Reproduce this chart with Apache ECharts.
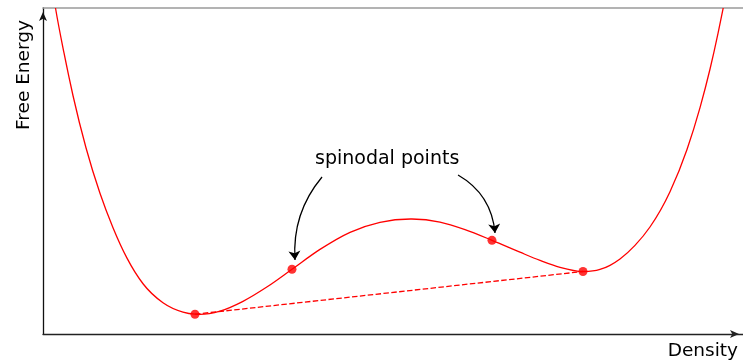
<!DOCTYPE html>
<html>
<head>
<meta charset="utf-8">
<script src="https://cdn.jsdelivr.net/npm/echarts@6/dist/echarts.min.js"></script>
<style>
  html, body { margin: 0; padding: 0; background: #fff; }
  #chart { width: 743px; height: 363px; }
</style>
</head>
<body>
<div id="chart"></div>
<script>
// Free energy curve, density and energy in reduced units (0..1 on both axes)
var density = [0.0107, 0.0181, 0.0300, 0.0429, 0.0614, 0.0814, 0.1000, 0.1200, 0.1429, 0.1714,
               0.2000, 0.2171, 0.2243, 0.2529, 0.2857, 0.3214, 0.3557, 0.3957, 0.4386, 0.4814,
               0.5271, 0.5671, 0.6029, 0.6414, 0.6814, 0.7100, 0.7386, 0.7714, 0.7957, 0.8100,
               0.8243, 0.8457, 0.8671, 0.8957, 0.9200, 0.9386, 0.9529, 0.9643, 0.9714, 0.9771];
var freeEnergy = [1.0982, 0.9969, 0.8620, 0.7308, 0.5713, 0.4317, 0.3261, 0.2327, 0.1541, 0.0959,
                  0.0673, 0.0607, 0.0601, 0.0702, 0.1003, 0.1463, 0.1985, 0.2595, 0.3120, 0.3426,
                  0.3528, 0.3433, 0.3202, 0.2874, 0.2509, 0.2258, 0.2046, 0.1917, 0.1979, 0.2107,
                  0.2301, 0.2718, 0.3282, 0.4365, 0.5660, 0.6945, 0.8129, 0.9224, 0.9969, 1.0613];

// Common-tangent (coexistence) points and spinodal points
var binodalX = [0.2171, 0.7714];
var binodalY = [0.0607, 0.1917];
var spinodalX = [0.3557, 0.6414];
var spinodalY = [0.1985, 0.2874];

// Annotation arrows: [start x, start y, tip x, tip y, curveness]
var arrowLeft = [0.3986, 0.4816, 0.3600, 0.2270, -0.2];
var arrowRight = [0.5929, 0.4877, 0.6457, 0.3098, 0.26];

var annotationText = 'spinodal points';
var xTitle = 'Density';
var yTitle = 'Free Energy';

var curve = density.map(function (x, i) { return [x, freeEnergy[i]]; });
var tangent = binodalX.map(function (x, i) { return [x, binodalY[i]]; });
var dots = binodalX.map(function (x, i) { return [x, binodalY[i]]; })
  .concat(spinodalX.map(function (x, i) { return [x, spinodalY[i]]; }));

function arrowItem(a) {
  return {
    coords: [[a[0], a[1]], [a[2], a[3]]],
    lineStyle: { curveness: a[4] }
  };
}

// Smooth cubic Hermite path through the projected points (y as a function of x)
function splinePath(pts) {
  var n = pts.length, h = [], d = [], m = [], i;
  for (i = 0; i < n - 1; i++) {
    h[i] = pts[i + 1][0] - pts[i][0];
    d[i] = (pts[i + 1][1] - pts[i][1]) / h[i];
  }
  m[0] = d[0];
  m[n - 1] = d[n - 2];
  for (i = 1; i < n - 1; i++) {
    m[i] = (d[i - 1] * h[i] + d[i] * h[i - 1]) / (h[i - 1] + h[i]);
  }
  var s = 'M' + pts[0][0] + ' ' + pts[0][1];
  for (i = 0; i < n - 1; i++) {
    var t = h[i] / 3;
    s += ' C' + (pts[i][0] + t) + ' ' + (pts[i][1] + m[i] * t) + ' ' +
         (pts[i + 1][0] - t) + ' ' + (pts[i + 1][1] - m[i + 1] * t) + ' ' +
         pts[i + 1][0] + ' ' + pts[i + 1][1];
  }
  return s;
}

var FONT = 'DejaVu Sans';
var chart = echarts.init(document.getElementById('chart'), null, { renderer: 'canvas' });

chart.setOption({
  animation: false,
  backgroundColor: '#ffffff',
  grid: { left: 43, right: 0, top: 8, bottom: 29, containLabel: false },
  xAxis: [{
    type: 'value', min: 0, max: 1, position: 'bottom',
    axisLine: { show: true, onZero: false, symbol: ['none', 'arrow'], symbolSize: [6, 9], symbolOffset: [0, -4],
                lineStyle: { color: '#222', width: 1.3 } },
    axisTick: { show: false }, axisLabel: { show: false }, splitLine: { show: false }
  }, {
    type: 'value', min: 0, max: 1, position: 'top',
    axisLine: { show: true, onZero: false, lineStyle: { color: '#9a9a9a', width: 1.6 } },
    axisTick: { show: false }, axisLabel: { show: false }, splitLine: { show: false }
  }],
  yAxis: {
    type: 'value', min: 0, max: 1,
    axisLine: { show: true, onZero: false, symbol: ['none', 'arrow'], symbolSize: [6, 9], symbolOffset: [0, -4],
                lineStyle: { color: '#111', width: 1.3 } },
    axisTick: { show: false }, axisLabel: { show: false }, splitLine: { show: false }
  },
  series: [{
    name: 'free energy', type: 'custom', data: curve, clip: true,
    encode: { x: 0, y: 1 }, z: 3,
    renderItem: function (params, api) {
      if (params.dataIndex !== 0) { return null; }
      var pts = curve.map(function (p) { return api.coord(p); });
      return {
        type: 'path',
        shape: { pathData: splinePath(pts) },
        style: { fill: null, stroke: '#ff0000', lineWidth: 1.3 }
      };
    }
  }, {
    name: 'common tangent', type: 'line', data: tangent, showSymbol: false,
    lineStyle: { color: '#ff0000', width: 1.3, type: [5.5, 2.4] }, z: 2
  }, {
    name: 'points', type: 'scatter', data: dots, symbol: 'circle', symbolSize: 9,
    itemStyle: { color: '#ff0000' }, z: 4
  }, {
    name: 'arrows', type: 'lines', coordinateSystem: 'cartesian2d',
    symbol: ['none', 'arrow'], symbolSize: 9,
    lineStyle: { color: '#000', width: 1.3, opacity: 1 },
    data: [arrowItem(arrowLeft), arrowItem(arrowRight)], z: 5
  }],
  graphic: [{
    type: 'text', left: 315, top: 150,
    style: { text: annotationText, font: '19px "' + FONT + '"', fill: '#000' }
  }, {
    type: 'text', right: 5, top: 342,
    style: { text: xTitle, font: '18.5px "' + FONT + '"', fill: '#000' }
  }, {
    type: 'text', x: 15, y: 130, rotation: Math.PI / 2,
    style: { text: yTitle, font: '18.5px "' + FONT + '"', fill: '#000' }
  }]
});
</script>
</body>
</html>
